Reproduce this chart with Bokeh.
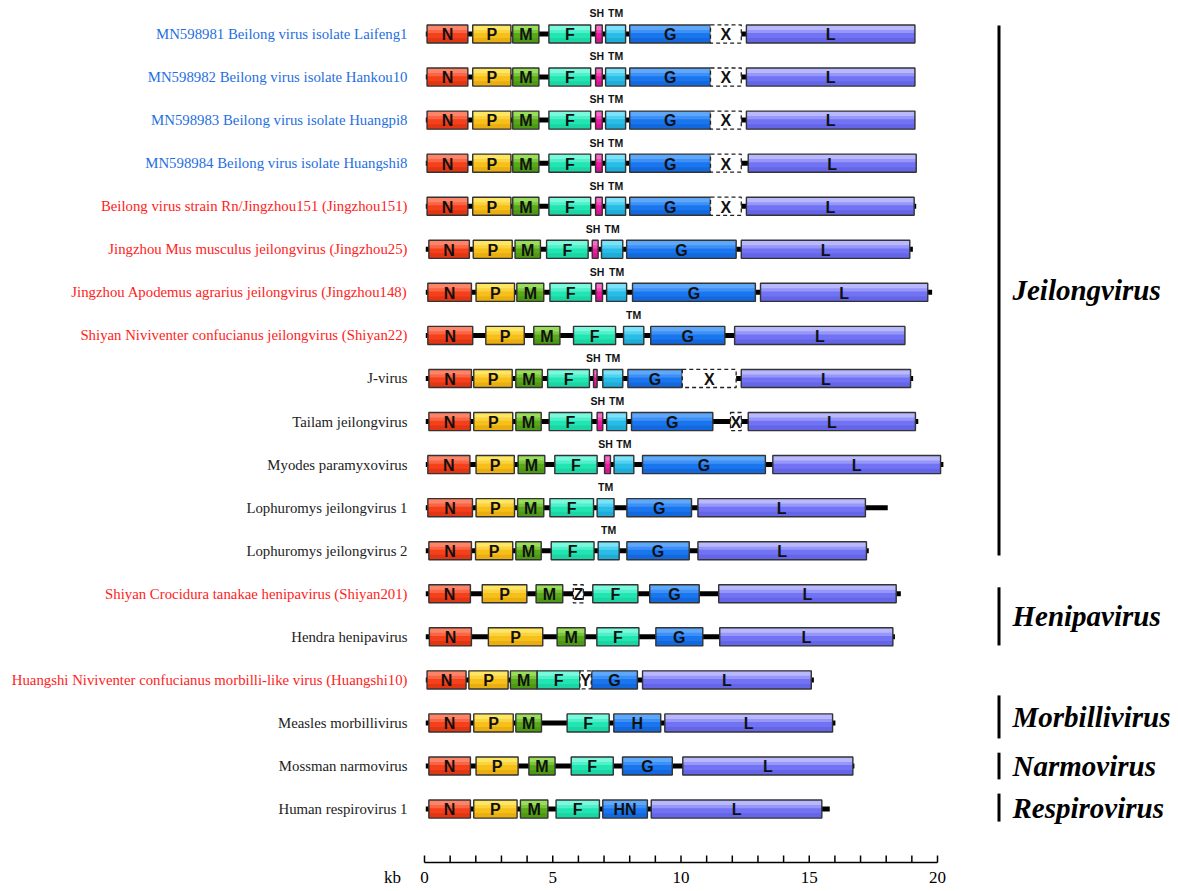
from bokeh.plotting import figure
from bokeh.models import Range1d, ColumnDataSource
from bokeh.core.properties import value
from bokeh.embed import file_html
from bokeh.resources import INLINE

# ---------------- data ----------------
row_labels = [
    "MN598981 Beilong virus isolate Laifeng1",
    "MN598982 Beilong virus isolate Hankou10",
    "MN598983 Beilong virus isolate Huangpi8",
    "MN598984 Beilong virus isolate Huangshi8",
    "Beilong virus strain Rn/Jingzhou151 (Jingzhou151)",
    "Jingzhou Mus musculus jeilongvirus (Jingzhou25)",
    "Jingzhou Apodemus agrarius jeilongvirus (Jingzhou148)",
    "Shiyan Niviventer confucianus jeilongvirus (Shiyan22)",
    "J-virus",
    "Tailam jeilongvirus",
    "Myodes paramyxovirus",
    "Lophuromys jeilongvirus 1",
    "Lophuromys jeilongvirus 2",
    "Shiyan Crocidura tanakae henipavirus (Shiyan201)",
    "Hendra henipavirus",
    "Huangshi Niviventer confucianus morbilli-like virus (Huangshi10)",
    "Measles morbillivirus",
    "Mossman narmovirus",
    "Human respirovirus 1",
]
label_kind = ["MN", "MN", "MN", "MN", "new", "new", "new", "new",
              "ref", "ref", "ref", "ref", "ref", "new", "ref", "new",
              "ref", "ref", "ref"]

genome_start = 0.05
genome_len = [19.12, 19.12, 19.12, 19.17, 19.17, 19.04, 19.79, 18.73, 19.05,
              19.25, 20.23, 18.06, 17.32, 18.57, 18.34, 15.18, 16.02, 16.76, 15.80]

genes = [
    ["N", "P", "M", "F", "SH", "TM", "G", "X", "L"],
    ["N", "P", "M", "F", "SH", "TM", "G", "X", "L"],
    ["N", "P", "M", "F", "SH", "TM", "G", "X", "L"],
    ["N", "P", "M", "F", "SH", "TM", "G", "X", "L"],
    ["N", "P", "M", "F", "SH", "TM", "G", "X", "L"],
    ["N", "P", "M", "F", "SH", "TM", "G", "L"],
    ["N", "P", "M", "F", "SH", "TM", "G", "L"],
    ["N", "P", "M", "F", "TM", "G", "L"],
    ["N", "P", "M", "F", "SH", "TM", "G", "X", "L"],
    ["N", "P", "M", "F", "SH", "TM", "G", "X", "L"],
    ["N", "P", "M", "F", "SH", "TM", "G", "L"],
    ["N", "P", "M", "F", "TM", "G", "L"],
    ["N", "P", "M", "F", "TM", "G", "L"],
    ["N", "P", "M", "Z", "F", "G", "L"],
    ["N", "P", "M", "F", "G", "L"],
    ["N", "P", "M", "F", "Y", "G", "L"],
    ["N", "P", "M", "F", "H", "L"],
    ["N", "P", "M", "F", "G", "L"],
    ["N", "P", "M", "F", "HN", "L"],
]
gene_start = [
    [0.10, 1.88, 3.44, 4.85, 6.67, 7.06, 8.00, 11.15, 12.55],
    [0.10, 1.88, 3.44, 4.85, 6.67, 7.06, 8.00, 11.15, 12.55],
    [0.10, 1.88, 3.44, 4.85, 6.67, 7.06, 8.00, 11.15, 12.55],
    [0.10, 1.88, 3.44, 4.85, 6.67, 7.06, 8.00, 11.15, 12.62],
    [0.10, 1.88, 3.44, 4.85, 6.67, 7.06, 8.00, 11.15, 12.55],
    [0.17, 1.90, 3.53, 4.76, 6.54, 6.90, 7.88, 12.35],
    [0.13, 2.01, 3.60, 4.89, 6.68, 7.10, 8.11, 13.10],
    [0.13, 2.39, 4.26, 5.81, 7.76, 8.82, 12.09],
    [0.17, 1.92, 3.56, 4.80, 6.59, 6.95, 7.93, 10.05, 12.35],
    [0.17, 1.92, 3.56, 4.86, 6.73, 7.10, 8.07, 11.93, 12.62],
    [0.13, 2.01, 3.65, 5.08, 7.02, 7.39, 8.50, 13.58],
    [0.13, 2.01, 3.63, 4.89, 6.73, 7.89, 10.66],
    [0.17, 1.99, 3.56, 4.94, 6.77, 7.89, 10.66],
    [0.17, 2.25, 4.35, 5.80, 6.56, 8.78, 11.47],
    [0.19, 2.49, 5.17, 6.72, 9.02, 11.51],
    [0.10, 1.73, 3.35, 4.39, 6.06, 6.52, 8.50],
    [0.17, 1.92, 3.56, 5.56, 7.38, 9.37],
    [0.17, 2.01, 4.07, 5.72, 7.72, 10.07],
    [0.17, 1.92, 3.74, 5.13, 6.95, 8.84],
]
gene_end = [
    [1.69, 3.37, 4.46, 6.48, 6.93, 7.84, 11.15, 12.35, 19.12],
    [1.69, 3.37, 4.46, 6.48, 6.93, 7.84, 11.15, 12.35, 19.12],
    [1.69, 3.37, 4.46, 6.48, 6.93, 7.84, 11.15, 12.35, 19.12],
    [1.69, 3.37, 4.46, 6.48, 6.93, 7.84, 11.15, 12.35, 19.17],
    [1.69, 3.37, 4.46, 6.48, 6.93, 7.84, 11.15, 12.35, 19.09],
    [1.75, 3.42, 4.52, 6.38, 6.77, 7.73, 12.15, 18.92],
    [1.83, 3.51, 4.65, 6.51, 6.94, 7.88, 12.90, 19.62],
    [1.88, 3.89, 5.28, 7.45, 8.55, 11.71, 18.73],
    [1.83, 3.42, 4.59, 6.43, 6.73, 7.73, 10.05, 12.15, 18.95],
    [1.79, 3.44, 4.55, 6.52, 6.95, 7.88, 11.24, 12.35, 19.14],
    [1.77, 3.50, 4.69, 6.73, 7.25, 8.16, 13.29, 20.12],
    [1.87, 3.51, 4.65, 6.59, 7.39, 10.41, 17.19],
    [1.83, 3.44, 4.55, 6.61, 7.59, 10.32, 17.23],
    [1.79, 3.99, 5.39, 6.19, 8.32, 10.71, 18.39],
    [1.83, 4.61, 6.26, 8.36, 10.85, 18.26],
    [1.62, 3.26, 4.39, 6.06, 6.50, 8.30, 15.08],
    [1.79, 3.46, 4.56, 7.20, 9.21, 15.91],
    [1.79, 3.65, 5.09, 7.36, 9.66, 16.70],
    [1.79, 3.61, 4.81, 6.82, 8.69, 15.49],
]

groups = ["Jeilongvirus", "Henipavirus", "Morbillivirus", "Narmovirus", "Respirovirus"]
group_first = [0, 13, 16, 17, 18]
group_last = [12, 14, 16, 17, 18]

scale_ticks = list(range(0, 21))
scale_labels = ["0", "5", "10", "15", "20"]
scale_unit = "kb"

# ---------------- style ----------------
label_colors = {"MN": "#1f6fdf", "new": "#ff2222", "ref": "#222222"}
gene_style = {  # base, light, dark
    "N": ("#f5401c", "#ff9278", "#c92a0a"),
    "P": ("#f7bf1a", "#ffec70", "#d69a08"),
    "M": ("#58a81a", "#a6e868", "#3f8a0c"),
    "F": ("#22e6b2", "#8cfde6", "#14c293"),
    "SH": ("#ee1aa0", "#ff78cf", "#c40c80"),
    "TM": ("#28bce6", "#8aeaff", "#1598c4"),
    "G": ("#1a76ee", "#6cb2ff", "#0b58c8"),
    "H": ("#1a76ee", "#6cb2ff", "#0b58c8"),
    "HN": ("#1a76ee", "#6cb2ff", "#0b58c8"),
    "L": ("#7272f4", "#c6c6ff", "#5656d8"),
}
dashed_genes = {"X", "Z", "Y"}
above_label_genes = {"SH", "TM"}
above_label_shift = {"SH": -0.08, "TM": 0.0}
grp_pad_top = [0.20, 0.15, 0.64, 0.31, 0.36]
grp_pad_bot = [0.11, 0.20, 0.36, 0.31, 0.29]

H = 0.21  # half box height (row units)
ROW_PX = 43.06
KB_PX = 25.65
FW, FH = 1176, 889

x_lo = (0 - 424) / KB_PX
x_hi = (FW - 424) / KB_PX
y_top = (0 - 33.5) / ROW_PX
y_bot = (FH - 33.5) / ROW_PX

p = figure(frame_width=FW, frame_height=FH, x_range=Range1d(x_lo, x_hi),
           y_range=Range1d(y_bot, y_top), output_backend="svg",
           toolbar_location=None, x_axis_location=None, y_axis_location=None,
           min_border=0)
p.grid.visible = False
p.outline_line_color = None
p.background_fill_color = "white"

# ---- scale bar (kb) ----
axis_y = (862 - 33.5) / ROW_PX
tick_y = (855 - 33.5) / ROW_PX
lab_y = (877 - 33.5) / ROW_PX
p.segment(x0=[scale_ticks[0]], x1=[scale_ticks[-1]], y0=[axis_y], y1=[axis_y],
          line_width=1.5, line_color="black")
p.segment(x0=scale_ticks, x1=scale_ticks, y0=[axis_y] * len(scale_ticks),
          y1=[tick_y] * len(scale_ticks), line_width=1.5, line_color="black")
p.text(x=[float(s) for s in scale_labels], y=[lab_y] * len(scale_labels), text=scale_labels,
       text_font=value("Liberation Serif"), text_font_size="17px", text_align="center",
       text_baseline="middle", text_color="black")
p.text(x=[-1.25], y=[lab_y], text=[scale_unit], text_font=value("Liberation Serif"),
       text_font_size="17px", text_align="center", text_baseline="middle",
       text_color="black")

# backbone
nrows = len(row_labels)
rows = list(range(nrows))
p.segment(x0=[genome_start] * nrows, x1=genome_len, y0=rows, y1=rows,
          line_width=5, line_color="black")

# flatten genes
solid = dict(left=[], right=[], row=[], base=[], light=[], dark=[], name=[])
dash = dict(left=[], right=[], row=[], name=[])
for r in rows:
    for g, s, e in zip(genes[r], gene_start[r], gene_end[r]):
        if g in dashed_genes:
            dash["left"].append(s); dash["right"].append(e)
            dash["row"].append(r); dash["name"].append(g)
        else:
            b, l, d = gene_style[g]
            solid["left"].append(s); solid["right"].append(e)
            solid["row"].append(r); solid["base"].append(b)
            solid["light"].append(l); solid["dark"].append(d)
            solid["name"].append(g)

sr = solid["row"]
src = ColumnDataSource(dict(
    left=solid["left"], right=solid["right"],
    top=[r - H for r in sr], bot=[r + H for r in sr],
    hl_top=[r - H for r in sr], hl_bot=[r - H + 0.55 * H for r in sr],
    hl2_bot=[r - H + 0.9 * H for r in sr],
    dk_top=[r + 0.45 * H for r in sr], dk_bot=[r + H for r in sr],
    base=solid["base"], light=solid["light"], dark=solid["dark"],
    name=solid["name"], row=sr,
    lx=[(a + b) / 2 for a, b in zip(solid["left"], solid["right"])],
))
p.quad(left="left", right="right", top="top", bottom="bot", source=src,
       fill_color="base", line_color=None)
p.quad(left="left", right="right", top="hl_top", bottom="hl2_bot", source=src,
       fill_color="light", fill_alpha=0.45, line_color=None)
p.quad(left="left", right="right", top="hl_top", bottom="hl_bot", source=src,
       fill_color="light", fill_alpha=0.7, line_color=None)
p.quad(left="left", right="right", top="dk_top", bottom="dk_bot", source=src,
       fill_color="dark", fill_alpha=0.45, line_color=None)
p.quad(left="left", right="right", top="top", bottom="bot", source=src,
       fill_color=None, line_color="#333333", line_width=1.4)

dr = dash["row"]
dsrc = ColumnDataSource(dict(
    left=dash["left"], right=dash["right"],
    top=[r - H for r in dr], bot=[r + H for r in dr],
    name=dash["name"], row=dr,
    lx=[(a + b) / 2 for a, b in zip(dash["left"], dash["right"])],
))
p.quad(left="left", right="right", top="top", bottom="bot", source=dsrc,
       fill_color="white", line_color="#222222", line_width=1.3, line_dash="4 3")

# gene labels
inside = dict(x=[], y=[], t=[])
above = dict(x=[], y=[], t=[])
for x, r, n in zip(src.data["lx"], sr, solid["name"]):
    if n in above_label_genes:
        above["x"].append(x + above_label_shift[n]); above["y"].append(r - 0.48)
        above["t"].append(n)
    else:
        inside["x"].append(x); inside["y"].append(r + 0.02); inside["t"].append(n)
for x, r, n in zip(dsrc.data["lx"], dr, dash["name"]):
    inside["x"].append(x); inside["y"].append(r + 0.02); inside["t"].append(n)

p.text(x=inside["x"], y=inside["y"], text=inside["t"], text_font=value("Liberation Sans"),
       text_font_style="bold", text_font_size="16px", text_align="center",
       text_baseline="middle", text_color="#111111")
p.text(x=above["x"], y=above["y"], text=above["t"], text_font=value("Liberation Sans"),
       text_font_style="bold", text_font_size="10.5px", text_align="center",
       text_baseline="middle", text_color="#111111")

# row labels
p.text(x=[(407 - 424) / KB_PX] * nrows, y=rows, text=row_labels,
       text_color=[label_colors[k] for k in label_kind],
       text_font=value("Liberation Serif"), text_font_size="14.8px",
       text_align="right", text_baseline="middle")

# group bars and names
gx = (998.5 - 424) / KB_PX
g_y0 = [f - pt for f, pt in zip(group_first, grp_pad_top)]
g_y1 = [l + pb for l, pb in zip(group_last, grp_pad_bot)]
p.segment(x0=[gx] * len(groups), x1=[gx] * len(groups), y0=g_y0, y1=g_y1,
          line_width=3, line_color="black")
p.text(x=[(1012 - 424) / KB_PX] * len(groups), y=[(a + b) / 2 for a, b in zip(g_y0, g_y1)],
       text=groups, text_font=value("Liberation Serif"), text_font_style="bold italic",
       text_font_size="29px", text_align="left", text_baseline="middle",
       text_color="black")

open("out.html", "w").write(file_html(p, INLINE))
